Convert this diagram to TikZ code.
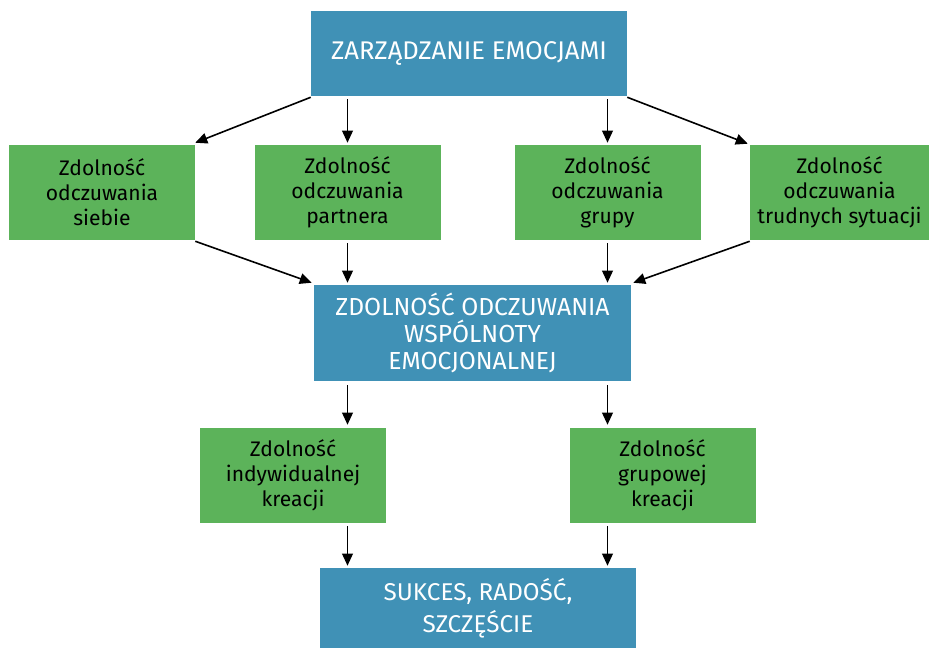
\documentclass[tikz,border=0pt]{standalone}
\usepackage{fontspec}
\setmainfont{Fira Sans}
\usetikzlibrary{arrows.meta,positioning,calc}
\definecolor{boxblue}{RGB}{64,145,182}
\definecolor{boxgreen}{RGB}{92,179,90}

\begin{document}
\begin{tikzpicture}[x=0.75pt,y=-0.75pt,
  bluebox/.style={fill=boxblue,text=white,inner sep=0pt,align=center,
    minimum width=237pt,font=\fontsize{18.5}{20.5}\selectfont},
  greenbox/.style={fill=boxgreen,text=black,inner sep=0pt,align=center,
    minimum width=139.5pt,minimum height=71.25pt,font=\fontsize{15.8}{18.8}\selectfont},
  arr/.style={-{Triangle[length=9pt,width=8pt]},line width=1.2pt}]
\useasboundingbox (0,0) rectangle (929,648);
% boxes
\node[bluebox,minimum height=63.75pt,font=\fontsize{19.2}{22}\selectfont] (top) at (469,53.5) {ZARZĄDZANIE EMOCJAMI};
\node[greenbox] (self) at (102,192.5) {Zdolność\\odczuwania\\siebie};
\node[greenbox] (partner) at (347.5,192.5) {Zdolność\\odczuwania\\partnera};
\node[greenbox] (group) at (607.5,192.5) {Zdolność\\odczuwania\\grupy};
\node[greenbox,minimum width=134.25pt] (hard) at (839.5,192.5) {Zdolność\\odczuwania\\trudnych sytuacji};
\node[bluebox,minimum width=237.75pt,minimum height=72pt] (mid) at (472.5,333) {ZDOLNOŚĆ ODCZUWANIA\\WSPÓLNOTY\\EMOCJONALNEJ};
\node[greenbox] (indiv) at (293,475.5) {Zdolność\\indywidualnej\\kreacji};
\node[greenbox] (grp) at (662.5,475.5) {Zdolność\\grupowej\\kreacji};
\node[bluebox,minimum height=60pt,font=\fontsize{18.2}{24}\selectfont] (end) at (478,608) {SUKCES, RADOŚĆ,\\SZCZĘŚCIE};
% arrows
\draw[arr] ($(top.south west)+(0,1)$) -- ($(self.north east)+(0,-2)$);
\draw[arr] ($(top.south -| partner)+(0,3)$) -- ($(partner.north)+(0,-2)$);
\draw[arr] ($(top.south -| group)+(0,3)$) -- ($(group.north)+(0,-2)$);
\draw[arr] ($(top.south east)+(0,1)$) -- ($(hard.north west)+(-2,-1)$);
\draw[arr] ($(self.south east)+(0,1)$) -- ($(mid.north west)+(-2,-2)$);
\draw[arr] ($(partner.south)+(0,3)$) -- ($(mid.north -| partner)+(0,-2)$);
\draw[arr] ($(group.south)+(0,3)$) -- ($(mid.north -| group)+(0,-2)$);
\draw[arr] ($(hard.south west)+(0,1)$) -- ($(mid.north east)+(2,-2)$);
\draw[arr] ($(mid.south -| partner)+(0,4)$) -- ($(indiv.north -| partner)+(0,-3)$);
\draw[arr] ($(mid.south -| group)+(0,4)$) -- ($(grp.north -| group)+(0,-3)$);
\draw[arr] ($(indiv.south -| partner)+(0,3)$) -- ($(end.north -| partner)+(0,-2)$);
\draw[arr] ($(grp.south -| group)+(0,3)$) -- ($(end.north -| group)+(0,-2)$);
\end{tikzpicture}
\end{document}
